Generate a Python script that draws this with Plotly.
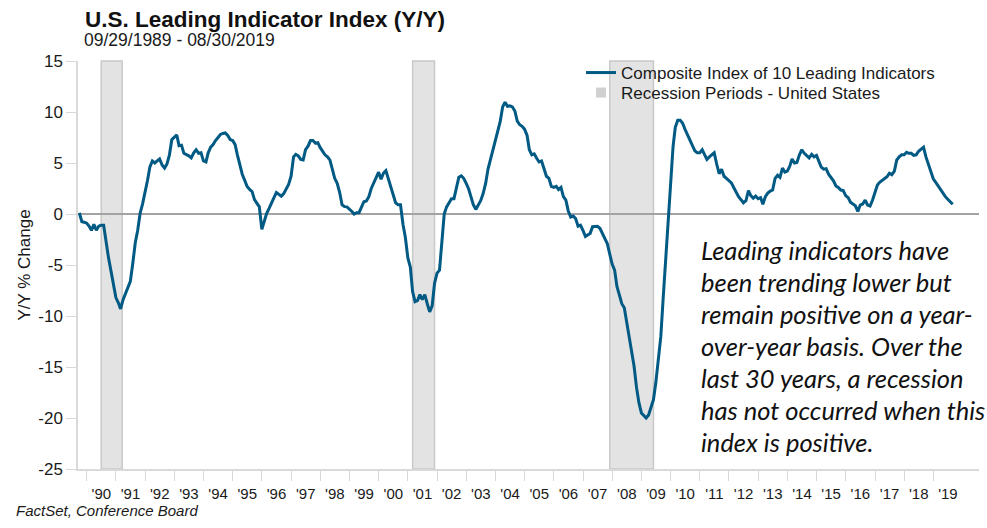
import pandas as pd
import plotly.graph_objects as go

# ---- data (Y/Y % change, monthly, Sep 1989 - Aug 2019) ----
lei_1989 = [0.1, -0.75, -0.8, -0.9]
lei_1990 = [-1.2, -1.6, -1.0, -1.6, -1.2, -1.1, -1.1, -3.0, -4.3, -5.6, -7.0, -8.2]
lei_1991 = [-8.7, -9.3, -8.4, -7.8, -7.3, -6.6, -4.8, -2.8, -1.6, 0.1, 1.0, 2.0]
lei_1992 = [3.3, 4.6, 5.2, 5.0, 5.25, 5.4, 4.8, 4.5, 4.9, 5.8, 7.3, 7.5]
lei_1993 = [7.75, 6.7, 6.75, 5.95, 5.85, 5.7, 5.5, 6.0, 6.3, 5.95, 6.0, 5.2]
lei_1994 = [5.1, 6.0, 6.55, 6.8, 7.2, 7.5, 7.8, 7.9, 7.95, 7.7, 7.3, 7.2]
lei_1995 = [6.8, 5.8, 4.9, 3.9, 3.3, 2.7, 2.4, 2.2, 1.4, 1.1, 0.7, -1.5]
lei_1996 = [-0.6, 0.05, 0.55, 1.0, 1.6, 2.1, 1.9, 1.75, 2.0, 2.4, 2.9, 3.7]
lei_1997 = [5.6, 5.85, 5.7, 5.35, 5.3, 6.3, 6.65, 7.2, 7.2, 6.95, 7.0, 6.5]
lei_1998 = [6.15, 5.8, 5.6, 5.3, 4.4, 3.5, 3.0, 2.1, 0.9, 0.72, 0.7, 0.5]
lei_1999 = [0.25, 0.0, 0.13, 0.13, 0.6, 1.2, 1.27, 1.7, 2.5, 3.0, 3.5, 4.1]
lei_2000 = [3.4, 4.0, 4.25, 3.5, 2.55, 1.85, 1.1, 0.9, 0.9, -1.0, -2.3, -4.3]
lei_2001 = [-5.2, -7.6, -8.6, -8.5, -7.9, -8.4, -7.9, -8.8, -9.6, -9.0, -6.8, -5.8]
lei_2002 = [-5.5, -2.9, 0.0, 0.7, 1.15, 1.5, 1.5, 2.7, 3.6, 3.73, 3.5, 3.0]
lei_2003 = [2.45, 1.7, 0.9, 0.45, 0.85, 1.3, 2.0, 3.0, 4.4, 5.35, 6.0, 6.95]
lei_2004 = [8.07, 9.05, 10.5, 10.95, 10.55, 10.6, 10.5, 10.1, 9.1, 8.75, 8.6, 8.3]
lei_2005 = [7.7, 6.3, 5.8, 5.9, 5.46, 5.1, 5.2, 4.3, 3.7, 3.5, 2.7, 2.6]
lei_2006 = [2.7, 2.4, 2.6, 1.7, 1.35, 0.3, -0.3, -0.2, -0.45, -1.2, -1.1, -1.6]
lei_2007 = [-2.2, -2.05, -1.9, -1.25, -1.2, -1.2, -1.4, -1.9, -2.4, -2.9, -3.9, -4.9]
lei_2008 = [-5.5, -7.1, -7.95, -8.8, -9.2, -10.6, -11.8, -13.2, -14.9, -17.0, -18.5, -19.5]
lei_2009 = [-19.8, -20.0, -19.7, -19.0, -18.2, -16.5, -14.5, -12.0, -8.2, -4.3, -1.5, 3.5]
lei_2010 = [6.6, 8.5, 9.2, 9.2, 8.9, 8.3, 7.8, 7.3, 6.8, 6.2, 6.0, 6.0]
lei_2011 = [6.3, 5.8, 5.35, 5.6, 5.8, 6.0, 4.9, 3.95, 4.4, 3.7, 3.5, 3.25]
lei_2012 = [3.05, 2.6, 2.1, 1.7, 1.4, 1.1, 1.3, 2.3, 1.8, 1.55, 1.75, 1.5]
lei_2013 = [1.6, 0.95, 1.7, 2.05, 2.25, 2.35, 3.5, 3.8, 3.6, 4.5, 4.1, 4.2]
lei_2014 = [4.7, 5.4, 5.0, 5.05, 5.8, 6.3, 5.95, 5.75, 5.5, 5.85, 5.6, 5.75]
lei_2015 = [5.2, 4.6, 4.4, 4.45, 3.9, 3.55, 3.25, 2.75, 2.6, 2.35, 2.3, 1.8]
lei_2016 = [1.6, 1.15, 0.95, 0.8, 0.25, 0.88, 0.98, 1.37, 0.88, 0.78, 1.35, 2.0]
lei_2017 = [2.85, 3.1, 3.3, 3.45, 3.65, 4.0, 3.85, 4.2, 5.3, 5.6, 5.8, 5.8]
lei_2018 = [6.05, 5.95, 5.95, 5.75, 5.8, 6.15, 6.4, 6.55, 5.6, 4.85, 4.1, 3.45]
lei_2019 = [3.1, 2.75, 2.4, 2.05, 1.7, 1.45, 1.15, 0.95]

recession_start = ["1990-07-01", "2001-03-01", "2007-12-01"]
recession_end = ["1991-03-20", "2001-11-30", "2009-05-31"]

year_list = list(range(1990, 2020))
year_labels = ["'%02d" % (y % 100) for y in year_list]
y_tick_values = [-25, -20, -15, -10, -5, 0, 5, 10, 15]
y_tick_labels = ["-25", "-20", "-15", "-10", "-5", "0", "5", "10", "15"]

series_name = "Composite Index of 10 Leading Indicators"
recession_name = "Recession Periods - United States"
title_text = "U.S. Leading Indicator Index (Y/Y)"
subtitle_text = "09/29/1989 - 08/30/2019"
source_text = "FactSet, Conference Board"
note_lines = [
    "Leading indicators have",
    "been trending lower but",
    "remain positive on a year-",
    "over-year basis. Over the",
    "last 30 years, a recession",
    "has not occurred when this",
    "index is positive.",
]

# ---- build ----
values = (lei_1989 + lei_1990 + lei_1991 + lei_1992 + lei_1993 + lei_1994 + lei_1995
          + lei_1996 + lei_1997 + lei_1998 + lei_1999 + lei_2000 + lei_2001 + lei_2002
          + lei_2003 + lei_2004 + lei_2005 + lei_2006 + lei_2007 + lei_2008 + lei_2009
          + lei_2010 + lei_2011 + lei_2012 + lei_2013 + lei_2014 + lei_2015 + lei_2016
          + lei_2017 + lei_2018 + lei_2019)
dates = pd.date_range("1989-09-30", periods=len(values), freq="ME")

LINE = "#005a84"
SHADE = "#e3e3e3"
SHADE_EDGE = "#c9c9c9"
AX = "#d9d9d9"
TXT = "#1a1a1a"
FONT = "Liberation Sans, Arial, sans-serif"

fig = go.Figure()

for s, e in zip(recession_start, recession_end):
    fig.add_shape(type="rect", xref="x", yref="paper", x0=s, x1=e, y0=0, y1=1,
                  fillcolor=SHADE, line=dict(color=SHADE_EDGE, width=1.5), layer="below")

fig.add_trace(go.Scatter(x=dates, y=values, mode="lines", name=series_name,
                         line=dict(color=LINE, width=3), legend="legend"))
fig.add_trace(go.Scatter(x=[None], y=[None], mode="markers", name=recession_name,
                         marker=dict(symbol="square", size=10, color="#d0d0d0"),
                         legend="legend2"))

mid_years = ["%d-07-02" % y for y in year_list]
year_starts = ["%d-01-01" % y for y in year_list]

legend_common = dict(xanchor="left", yanchor="middle", bgcolor="rgba(0,0,0,0)",
                     font=dict(size=17, family=FONT, color=TXT), borderwidth=0)

fig.update_layout(
    width=987, height=528,
    margin=dict(l=78, r=8, t=61, b=59, autoexpand=False),
    paper_bgcolor="white", plot_bgcolor="white",
    font=dict(family=FONT, color=TXT),
    title=dict(text="<b>%s</b>" % title_text, x=85 / 987, xref="container", xanchor="left",
               y=1 - 19 / 528, yref="container", yanchor="middle",
               font=dict(size=22.5, family=FONT, color="#111111")),
    showlegend=True,
    legend=dict(x=0.5583, y=(469 - 73) / 408, **legend_common),
    legend2=dict(x=0.5583, y=(469 - 93) / 408, **legend_common),
    xaxis=dict(
        type="date", range=["1989-09-13", "2020-07-25"],
        tickmode="array", tickvals=mid_years, ticktext=year_labels,
        ticks="outside", ticklen=10, tickcolor="rgba(0,0,0,0)",
        tickfont=dict(size=15, family=FONT, color=TXT),
        minor=dict(tickmode="array", tickvals=year_starts, ticks="outside",
                   ticklen=10, tickcolor=AX, tickwidth=1, showgrid=False),
        showline=True, linecolor=AX, linewidth=1.5,
        showgrid=False, zeroline=False,
    ),
    yaxis=dict(
        range=[-25, 15], tickmode="array", tickvals=y_tick_values, ticktext=y_tick_labels,
        ticks="outside", ticklen=10, tickcolor=AX,
        tickfont=dict(size=17, family=FONT, color=TXT),
        showline=True, linecolor=AX, linewidth=1.5,
        showgrid=False, zeroline=True, zerolinecolor="#a3a3a3", zerolinewidth=1.5,
        title=dict(text="Y/Y % Change", font=dict(size=17, family=FONT, color=TXT), standoff=3),
    ),
)

fig.add_annotation(text=subtitle_text, xref="paper", yref="paper",
                   x=(82 - 78) / 901, y=(469 - 40) / 408, xanchor="left", yanchor="middle",
                   showarrow=False, font=dict(size=17.5, family=FONT, color=TXT))

fig.add_annotation(text="<i>%s</i>" % source_text, xref="paper", yref="paper",
                   x=(14 - 78) / 901, y=(469 - 510) / 408, xanchor="left", yanchor="middle",
                   showarrow=False, font=dict(size=15, family=FONT, color=TXT))

for i, line in enumerate(note_lines):
    yc = 250 + i * 32
    fig.add_annotation(text="<i>%s</i>" % line, xref="paper", yref="paper",
                       x=(699 - 78) / 901, y=(469 - yc) / 408, xanchor="left", yanchor="middle",
                       showarrow=False, font=dict(size=25.5, family="Lato, Open Sans, sans-serif",
                                                  color="#111111"))

fig.write_html("out.html", config={"displayModeBar": False},
               post_script="document.body.style.margin='0';")
